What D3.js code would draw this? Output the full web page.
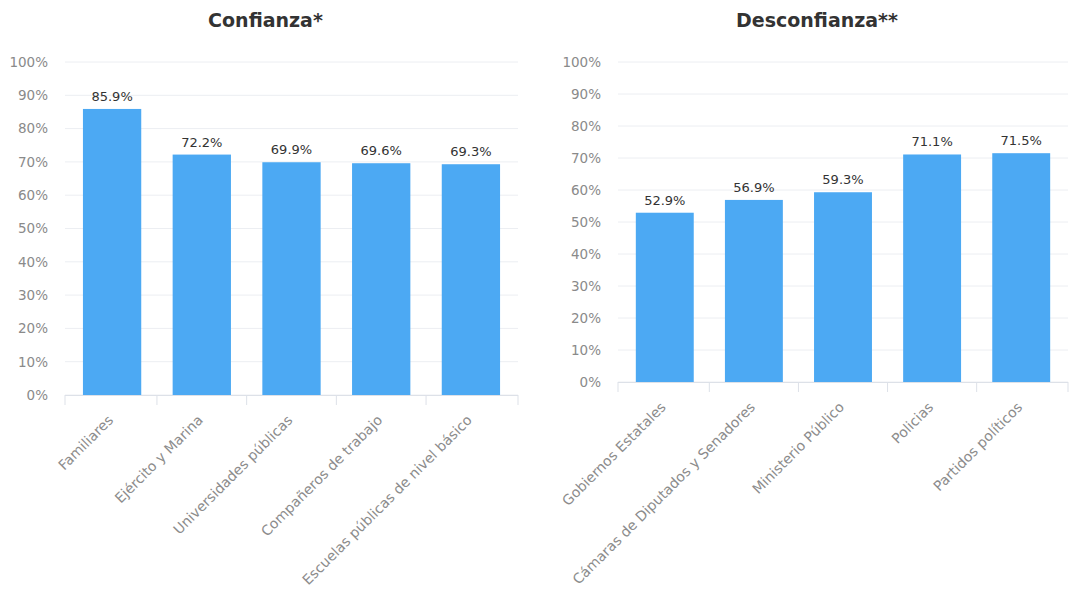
<!DOCTYPE html>
<html>
<head>
<meta charset="utf-8">
<script src="https://cdn.jsdelivr.net/npm/d3@7.9.0/dist/d3.min.js"></script>
<style>
  body { margin: 0; background: #fff; }
  svg { display: block; }
  .title { font-family: "DejaVu Sans", sans-serif; font-weight: bold; font-size: 19px; fill: #333; }
  .tick text { font-family: "DejaVu Sans", sans-serif; font-size: 13.5px; fill: #8a8a8a; }
  .val { font-family: "DejaVu Sans", sans-serif; font-size: 13px; fill: #333; }
  .cat { font-family: "DejaVu Sans", sans-serif; font-size: 14px; fill: #8c8c8c; }
</style>
</head>
<body>
<svg id="chart" width="1084" height="594"></svg>
<script>
const confianzaCats = ['Familiares', 'Ejército y Marina', 'Universidades públicas', 'Compañeros de trabajo', 'Escuelas públicas de nivel básico'];
const confianzaVals = [85.9, 72.2, 69.9, 69.6, 69.3];
const desconfianzaCats = ['Gobiernos Estatales', 'Cámaras de Diputados y Senadores', 'Ministerio Público', 'Policias', 'Partidos políticos'];
const desconfianzaVals = [52.9, 56.9, 59.3, 71.1, 71.5];
const yTicks = [0, 10, 20, 30, 40, 50, 60, 70, 80, 90, 100];

const svg = d3.select('#chart');

function drawPanel(title, cats, vals, box) {
  const g = svg.append('g');
  const x = d3.scaleBand().domain(cats).range([box.x0, box.x1]).paddingInner(0.35).paddingOuter(0.2);
  const y = d3.scaleLinear().domain([0, 100]).range([box.y1, box.y0]);

  // gridlines
  g.append('g').selectAll('line').data(yTicks).join('line')
    .attr('x1', box.x0).attr('x2', box.x1)
    .attr('y1', d => y(d)).attr('y2', d => y(d))
    .attr('stroke', '#eceef2').attr('stroke-width', 1);

  // y axis
  const ya = g.append('g').attr('transform', `translate(${box.x0 - 14},0)`)
    .call(d3.axisLeft(y).tickValues(yTicks).tickFormat(d => d + '%').tickSize(0));
  ya.select('.domain').remove();

  // bars
  g.append('g').selectAll('rect').data(vals).join('rect')
    .attr('x', (d, i) => x(cats[i]))
    .attr('width', x.bandwidth())
    .attr('y', d => y(d))
    .attr('height', d => y(0) - y(d))
    .attr('fill', '#4ca9f3');

  // value labels
  g.append('g').selectAll('text').data(vals).join('text')
    .attr('class', 'val')
    .attr('x', (d, i) => x(cats[i]) + x.bandwidth() / 2)
    .attr('y', d => y(d) - 8)
    .attr('text-anchor', 'middle')
    .text(d => d.toFixed(1) + '%');

  // x axis baseline + ticks at category boundaries
  g.append('line').attr('x1', box.x0).attr('x2', box.x1)
    .attr('y1', y(0) + 0.5).attr('y2', y(0) + 0.5).attr('stroke', '#dde1e8');
  const bounds = cats.map(c => x(c) - x.step() * x.paddingInner() / 2).concat([box.x1]);
  bounds[0] = box.x0;
  g.append('g').selectAll('line').data(bounds).join('line')
    .attr('x1', d => d).attr('x2', d => d)
    .attr('y1', y(0)).attr('y2', y(0) + 10)
    .attr('stroke', '#dde1e8');

  // rotated category labels
  g.append('g').selectAll('text').data(cats).join('text')
    .attr('class', 'cat')
    .attr('text-anchor', 'end')
    .attr('transform', c => `translate(${x(c) + x.bandwidth() / 2 + 2},${y(0) + 26}) rotate(-45)`)
    .text(c => c);

  svg.append('text').attr('class', 'title')
    .attr('x', (box.x0 + box.x1) / 2 - 26).attr('y', 27)
    .attr('text-anchor', 'middle').text(title);
}

drawPanel('Confianza*', confianzaCats, confianzaVals, { x0: 65, x1: 518, y0: 62, y1: 395 });
drawPanel('Desconfianza**', desconfianzaCats, desconfianzaVals, { x0: 618, x1: 1068, y0: 62, y1: 382 });
</script>
</body>
</html>
